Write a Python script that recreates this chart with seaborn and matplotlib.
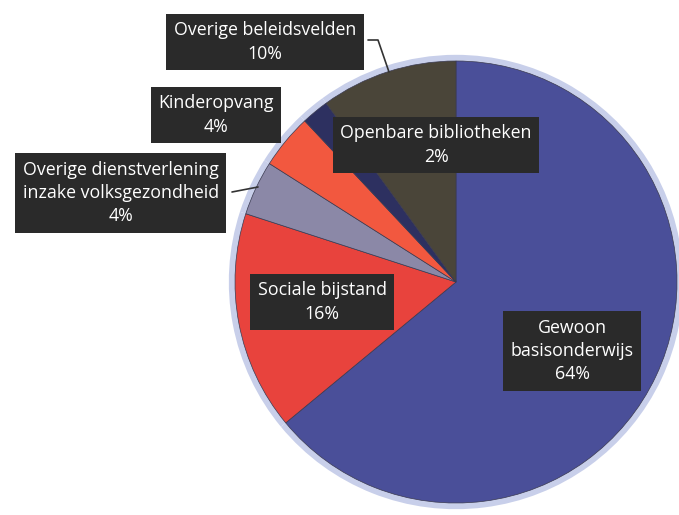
import matplotlib
matplotlib.use("Agg")
import matplotlib.pyplot as plt
import seaborn as sns

categories = [
    "Gewoon\nbasisonderwijs",
    "Sociale bijstand",
    "Overige dienstverlening\ninzake volksgezondheid",
    "Kinderopvang",
    "Openbare bibliotheken",
    "Overige beleidsvelden",
]
values = [64, 16, 4, 4, 2, 10]
colors = ["#4A4F99", "#E8433D", "#8B88A7", "#F2583F", "#2D3060", "#4A4539"]

# label box centres (data coords, pie radius = 1)
label_pos = [
    (0.525, -0.312),
    (-0.606, -0.090),
    (-1.516, 0.403),
    (-1.086, 0.756),
    (-0.090, 0.620),
    (-0.864, 1.086),
]

sns.set_theme(style="white")
plt.rcParams["font.family"] = ["Open Sans", "DejaVu Sans"]

W, H = 679, 515
cx, cy, r = 456, 282, 221
fig = plt.figure(figsize=(W / 100, H / 100), dpi=100)
fig.patch.set_facecolor("white")
ax = fig.add_axes([(cx - r) / W, (H - cy - r) / H, 2 * r / W, 2 * r / H])
ax.set_xlim(-1, 1)
ax.set_ylim(-1, 1)
ax.set_aspect("equal")
ax.axis("off")

# soft halo behind the pie
ax.pie(values, radius=1.028, startangle=90, counterclock=False,
       colors=["#C8CFEA"] * len(values), wedgeprops=dict(linewidth=0))
ax.pie(values, radius=1.0, startangle=90, counterclock=False,
       colors=colors, wedgeprops=dict(linewidth=0.5, edgecolor="#3a3a50"))
ax.set_xlim(-1, 1)
ax.set_ylim(-1, 1)

for cat, v, (x, y) in zip(categories, values, label_pos):
    ax.text(x, y, f"{cat}\n{v}%", ha="center", va="center", color="white",
            fontsize=12.8, linespacing=1.38, clip_on=False, zorder=5,
            bbox=dict(boxstyle="square,pad=0.42", fc="#2A2A2A", ec="none"))

def px(p):
    return ((p[0] - cx) / r, (cy - p[1]) / r)

# leader lines
for pts in [[(368, 40), (378, 40), (389, 72)], [(232, 192), (258, 187)]]:
    d = [px(p) for p in pts]
    ax.plot([q[0] for q in d], [q[1] for q in d], color="#333333",
            linewidth=1.2, clip_on=False, zorder=4)

fig.savefig("out.png", dpi=100, facecolor="white")
